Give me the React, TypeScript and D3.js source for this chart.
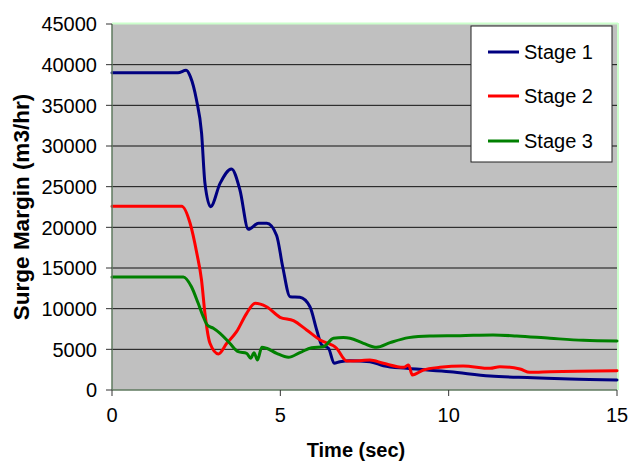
import React from "react";
import * as d3 from "d3";

const yTicks = [0, 5000, 10000, 15000, 20000, 25000, 30000, 35000, 40000, 45000];
const xTicks = [0, 5, 10, 15];

const stage1T = [0, 1.96, 2.2, 2.33, 2.51, 2.66, 2.76, 2.93, 3.21, 3.55, 3.8, 4.05, 4.35, 4.6, 4.89, 5.07, 5.29, 5.58, 5.88, 6.08, 6.23, 6.43, 6.6, 6.77, 7.07, 7.66, 8.06, 8.75, 10.04, 11.23, 12.51, 13.6, 15];
const stage1V = [39000, 39000, 39300, 38500, 35650, 31600, 25450, 22540, 25400, 27170, 24590, 19760, 20500, 20500, 19000, 15160, 11470, 11400, 10240, 7380, 5530, 5130, 3280, 3480, 3600, 3480, 2990, 2660, 2250, 1720, 1520, 1350, 1230];

const stage2T = [0, 2.07, 2.32, 2.52, 2.66, 2.76, 2.91, 3.16, 3.41, 3.7, 4.0, 4.25, 4.59, 4.99, 5.39, 5.78, 6.18, 6.67, 6.97, 7.37, 7.66, 8.06, 8.66, 8.81, 8.92, 9.25, 9.74, 10.43, 11.23, 11.52, 12.12, 12.41, 13.01, 15];
const stage2V = [22600, 22600, 20500, 16800, 13500, 9430, 5740, 4430, 5740, 7170, 9430, 10660, 10240, 8940, 8520, 7380, 6150, 5130, 3570, 3600, 3690, 3280, 2790, 3070, 1840, 2460, 2790, 2950, 2660, 2870, 2580, 2170, 2250, 2370];

const stage3T = [0, 2.12, 2.36, 2.56, 2.71, 2.83, 3.01, 3.21, 3.5, 3.75, 4.0, 4.12, 4.22, 4.32, 4.45, 4.59, 4.89, 5.24, 5.58, 5.93, 6.28, 6.58, 6.87, 7.07, 7.47, 7.86, 8.26, 8.81, 9.44, 10.34, 11.32, 12.02, 13.01, 14.0, 15];
const stage3V = [13900, 13900, 12700, 10660, 9020, 7990, 7590, 6970, 5740, 4710, 4510, 3900, 4590, 3690, 5250, 5130, 4510, 4020, 4590, 5200, 5330, 6360, 6440, 6360, 5740, 5250, 5820, 6440, 6640, 6680, 6760, 6640, 6360, 6110, 6030];

const seriesNames = ["Stage 1", "Stage 2", "Stage 3"];
const seriesColors = ["#000080", "#FF0000", "#008000"];

const W = 631;
const H = 466;
const left = 112;
const right = 617;
const top = 24;
const bottom = 390;
const font = "'Liberation Sans', Arial, sans-serif";

export default function App() {
  const x = d3.scaleLinear().domain([0, 15]).range([left, right]);
  const y = d3.scaleLinear().domain([0, 45000]).range([bottom, top]);
  const line = d3
    .line<[number, number]>()
    .x((d) => x(d[0]))
    .y((d) => y(d[1]))
    .curve(d3.curveMonotoneX);

  const series = [
    d3.zip(stage1T, stage1V) as [number, number][],
    d3.zip(stage2T, stage2V) as [number, number][],
    d3.zip(stage3T, stage3V) as [number, number][],
  ];

  const legendRows = [52, 96, 141];

  return (
    <svg
      width={W}
      height={H}
      style={{ position: "absolute", left: 0, top: 0, background: "#fff" }}
      fontFamily={font}
    >
      <rect x={left} y={top} width={right - left} height={bottom - top} fill="#C0C0C0" />
      {yTicks
        .filter((t) => t > 0 && t < 45000)
        .map((t) => (
          <line key={t} x1={left} x2={right} y1={y(t)} y2={y(t)} stroke="#111" strokeWidth={1} />
        ))}
      <line x1={left} x2={right + 1} y1={top - 0.5} y2={top - 0.5} stroke="#CCFFCC" strokeWidth={2} />
      <line x1={right + 1} x2={right + 1} y1={top - 1} y2={bottom} stroke="#CCFFCC" strokeWidth={2} />
      {series.map((s, i) => (
        <path
          key={i}
          d={line(s) || ""}
          fill="none"
          stroke={seriesColors[i]}
          strokeWidth={3}
          strokeLinejoin="round"
          strokeLinecap="round"
        />
      ))}
      <line x1={left} x2={left} y1={top} y2={bottom} stroke="#5F7A5F" strokeWidth={1.5} />
      <line x1={left} x2={right} y1={bottom} y2={bottom} stroke="#5F7A5F" strokeWidth={1.5} />
      {yTicks.map((t) => (
        <g key={t}>
          <line x1={left - 6} x2={left} y1={y(t)} y2={y(t)} stroke="#333" strokeWidth={1} />
          <text x={97} y={y(t)} dy="0.36em" textAnchor="end" fontSize={20} fill="#000">
            {t}
          </text>
        </g>
      ))}
      {xTicks.map((t) => (
        <g key={t}>
          <line x1={x(t)} x2={x(t)} y1={bottom} y2={bottom + 6} stroke="#333" strokeWidth={1} />
          <text x={x(t)} y={422} textAnchor="middle" fontSize={20} fill="#000">
            {t}
          </text>
        </g>
      ))}
      <text x={356} y={457} textAnchor="middle" fontSize={20} fontWeight="bold" fill="#000">
        Time (sec)
      </text>
      <text
        transform={`translate(29, ${(top + bottom) / 2}) rotate(-90)`}
        textAnchor="middle"
        fontSize={22.5}
        fontWeight="bold"
        fill="#000"
      >
        Surge Margin (m3/hr)
      </text>
      <rect x={471} y={26} width={141} height={136} fill="#fff" stroke="#222" strokeWidth={1} />
      {seriesNames.map((n, i) => (
        <g key={n}>
          <line x1={488} x2={519} y1={legendRows[i]} y2={legendRows[i]} stroke={seriesColors[i]} strokeWidth={3} />
          <text x={524} y={legendRows[i]} dy="0.36em" fontSize={20} fill="#000">
            {n}
          </text>
        </g>
      ))}
    </svg>
  );
}
